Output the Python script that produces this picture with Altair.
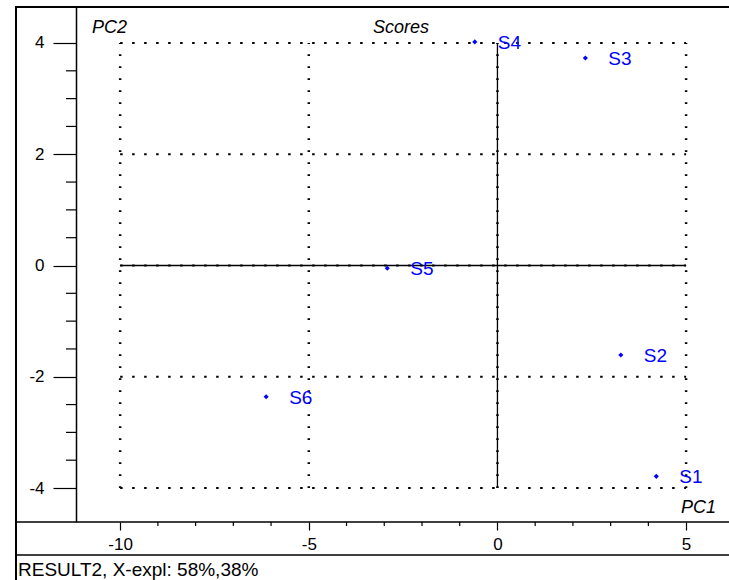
import altair as alt
import pandas as pd

# ---- data ----
names = ["S1", "S2", "S3", "S4", "S5", "S6"]
pc1 = [4.21, 3.27, 2.33, -0.60, -2.92, -6.13]
pc2 = [-3.79, -1.61, 3.73, 4.02, -0.05, -2.36]

x_major = [-10, -5, 0, 5]
y_major = [-4, -2, 0, 2, 4]
x_minor = [-9, -8, -7, -6, -4, -3, -2, -1, 1, 2, 3, 4]
y_minor = [-3.5, -3, -2.5, -1.5, -1, -0.5, 0.5, 1, 1.5, 2.5, 3, 3.5]

x_domain = [-11.17, 6.137]
y_domain = [-4.611, 4.647]
grid_x_span = [-10, 5]
grid_y_span = [-4, 4]

FONT = "Liberation Sans"
BLUE = "#0000ff"

pts = pd.DataFrame({"PC1": pc1, "PC2": pc2, "name": names})

xs = alt.Scale(domain=x_domain, nice=False, zero=False)
ys = alt.Scale(domain=y_domain, nice=False, zero=False)

W, H = 653, 515

# grid lines
hgrid = pd.DataFrame({"y": y_major, "x1": grid_x_span[0], "x2": grid_x_span[1]})
vgrid = pd.DataFrame({"x": x_major, "y1": grid_y_span[0], "y2": grid_y_span[1]})

hdots = alt.Chart(hgrid).mark_rule(color="black", strokeWidth=1.8, strokeDash=[2.5, 9.5]).encode(
    y=alt.Y("y:Q", scale=ys,
            axis=alt.Axis(values=y_major, tickSize=23, labelPadding=9, labelFontSize=17,
                          labelFont=FONT, labelColor="black", tickColor="black",
                          domainColor="black", domainWidth=1.5, tickWidth=1.2,
                          grid=False, title=None, labelExpr="'' + datum.value")),
    x=alt.X("x1:Q", scale=xs,
            axis=alt.Axis(values=x_major, tickSize=8, labelPadding=6, labelFontSize=17,
                          labelFont=FONT, labelColor="black", tickColor="black",
                          domain=False, tickWidth=1.2, grid=False, title=None,
                          labelExpr="'' + datum.value")),
    x2="x2:Q",
)
vdots = alt.Chart(vgrid).mark_rule(color="black", strokeWidth=2.5, strokeDash=[1.8, 10.2]).encode(
    x=alt.X("x:Q", scale=xs), y=alt.Y("y1:Q", scale=ys), y2="y2:Q"
)
zero_h = alt.Chart(pd.DataFrame({"y": [0], "x1": [grid_x_span[0]], "x2": [grid_x_span[1]]})).mark_rule(
    color="black", strokeWidth=1.3).encode(
    y=alt.Y("y:Q", scale=ys), x=alt.X("x1:Q", scale=xs), x2="x2:Q")
zero_v = alt.Chart(pd.DataFrame({"x": [0], "y1": [grid_y_span[0]], "y2": [grid_y_span[1]]})).mark_rule(
    color="black", strokeWidth=1.3).encode(
    x=alt.X("x:Q", scale=xs), y=alt.Y("y1:Q", scale=ys), y2="y2:Q")

# minor ticks
ymin_ticks = alt.Chart(pd.DataFrame({"y": y_minor})).mark_rule(color="black", strokeWidth=1.2).encode(
    y=alt.Y("y:Q", scale=ys), x=alt.value(-10), x2=alt.value(0))
xmin_ticks = alt.Chart(pd.DataFrame({"x": x_minor})).mark_rule(color="black", strokeWidth=1.2).encode(
    x=alt.X("x:Q", scale=xs), y=alt.value(H), y2=alt.value(H + 4))

# frame
one = alt.Data(values=[{}])
frame_left = alt.Chart(one).mark_rule(color="black", strokeWidth=2).encode(
    x=alt.value(-60), y=alt.value(-1), y2=alt.value(580))
frame_top = alt.Chart(one).mark_rule(color="black", strokeWidth=2).encode(
    y=alt.value(0), x=alt.value(-61), x2=alt.value(W + 5))
frame_axis = alt.Chart(one).mark_rule(color="black", strokeWidth=1.5).encode(
    y=alt.value(H), x=alt.value(-60), x2=alt.value(W + 5))
frame_bottom = alt.Chart(one).mark_rule(color="black", strokeWidth=1.5).encode(
    y=alt.value(H + 33), x=alt.value(-60), x2=alt.value(W + 5))

# points and labels
dots = alt.Chart(pts).mark_point(filled=True, shape="diamond", size=26, color=BLUE, opacity=1).encode(
    x=alt.X("PC1:Q", scale=xs), y=alt.Y("PC2:Q", scale=ys))
labels = alt.Chart(pts).mark_text(align="left", baseline="middle", dx=23, dy=1, fontSize=19,
                                  font=FONT, color=BLUE).encode(
    x=alt.X("PC1:Q", scale=xs), y=alt.Y("PC2:Q", scale=ys), text="name:N")

# titles
t_pc2 = alt.Chart(one).mark_text(text="PC2", align="left", baseline="middle", fontSize=18,
                                 fontStyle="italic", font=FONT, color="black").encode(
    x=alt.value(16), y=alt.value(21))
t_scores = alt.Chart(one).mark_text(text="Scores", align="center", baseline="middle", fontSize=18,
                                    fontStyle="italic", font=FONT, color="black").encode(
    x=alt.value(325), y=alt.value(21))
t_pc1 = alt.Chart(one).mark_text(text="PC1", align="right", baseline="middle", fontSize=18,
                                 fontStyle="italic", font=FONT, color="black").encode(
    x=alt.value(640), y=alt.value(501))
t_result = alt.Chart(one).mark_text(text="RESULT2, X-expl: 58%,38%", align="left", baseline="middle",
                                    fontSize=19, font=FONT, color="black").encode(
    x=alt.value(-58), y=alt.value(563))

chart = alt.layer(
    hdots, vdots, zero_h, zero_v, ymin_ticks, xmin_ticks,
    frame_left, frame_top, frame_axis, frame_bottom,
    dots, labels, t_pc2, t_scores, t_pc1, t_result,
).properties(
    width=W, height=H,
    autosize=alt.AutoSizeParams(type="none"),
    padding={"left": 76, "top": 7, "right": 0, "bottom": 58},
    background="white",
).configure_view(stroke=None)

chart.save("out.html", embed_options={"renderer": "svg", "actions": False})
